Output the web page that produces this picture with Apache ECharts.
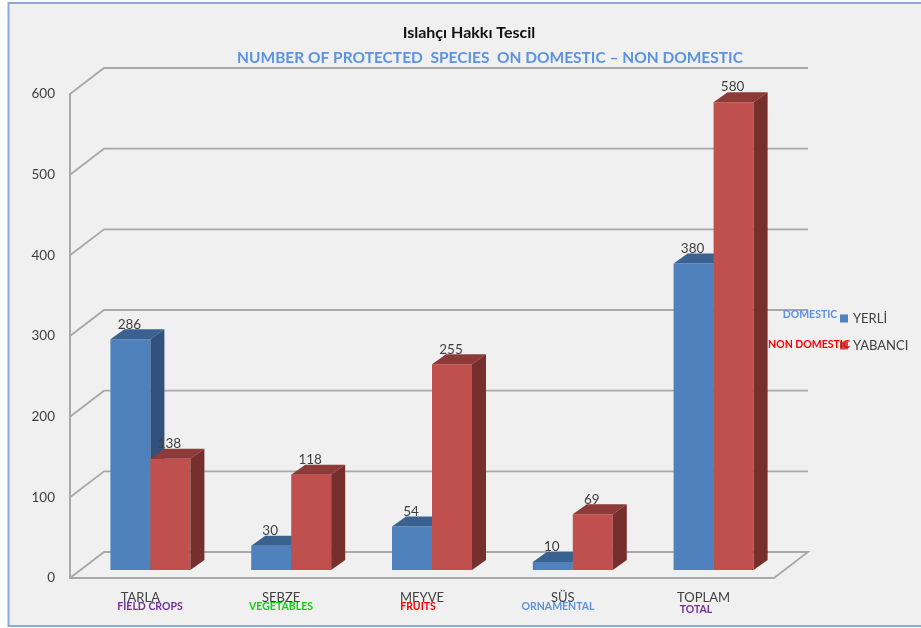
<!DOCTYPE html>
<html>
<head>
<meta charset="utf-8">
<style>html,body{margin:0;padding:0;background:#fff}#c{width:921px;height:628px;filter:blur(0.4px)}</style>
<script src="https://cdn.jsdelivr.net/npm/echarts@6/dist/echarts.min.js"></script>
</head>
<body>
<div id="c"></div>
<script>
const categories = ['TARLA', 'SEBZE', 'MEYVE', 'SÜS', 'TOPLAM'];
const yerli = [286, 30, 54, 10, 380];
const yabanci = [138, 118, 255, 69, 580];
const ticks = [0, 100, 200, 300, 400, 500, 600];
const seriesNames = ['YERLİ', 'YABANCI'];
const FONT = 'Lato';
const INK = '#404040';
const GRID = '#a8a8a8';

function wallItem(params, api) {
  const cs = params.coordSys;
  const v = api.value(0);
  const y = api.coord([0, v])[1];
  const l = cs.x, r = cs.x + cs.width, dx = 34, dy = 26;
  const pts = [[l, y], [l + dx, y - dy], [r + dx, y - dy]];
  if (v === 0) pts.push([r, y]);
  return { type: 'polyline', shape: { points: pts }, style: { fill: null, stroke: GRID, lineWidth: 1.8 } };
}

function barItem(side, front, top, right) {
  return function (params, api) {
    const p = api.coord([api.value(0), api.value(1)]);
    const base = api.coord([api.value(0), 0])[1] - 8;
    const w = 40, dx = 14, dy = 10;
    const x = p[0] + (side === 0 ? -30 : 10);
    const y = p[1] - 8;
    return {
      type: 'group',
      children: [
        { type: 'rect', shape: { x: x, y: y, width: w, height: base - y }, style: { fill: front } },
        { type: 'polygon', shape: { points: [[x, y], [x + w, y], [x + w + dx, y - dy], [x + dx, y - dy]] }, style: { fill: top } },
        { type: 'polygon', shape: { points: [[x + w, y], [x + w + dx, y - dy], [x + w + dx, base - dy], [x + w, base]] }, style: { fill: right } },
        { type: 'text', style: { x: x + w / 2 - 1, y: y - 15, text: String(api.value(1)), fill: INK, font: '13.5px ' + FONT, align: 'center', verticalAlign: 'middle' } }
      ]
    };
  };
}

function note(text, cx, cy, color, size) {
  return { type: 'text', z: 50, style: { x: cx, y: cy, text: text, fill: color, font: 'bold ' + (size || 10.5) + 'px ' + FONT, align: 'center', verticalAlign: 'middle' } };
}

const chart = echarts.init(document.getElementById('c'), null, { renderer: 'canvas' });
chart.setOption({
  animation: false,
  backgroundColor: '#ffffff',
  title: [
    { text: 'Islahçı Hakkı Tescil', left: 469, top: 25, padding: 0, textAlign: 'center', textStyle: { fontFamily: FONT, fontSize: 16, fontWeight: 'bold', color: '#111111' } },
    { text: 'NUMBER OF PROTECTED  SPECIES  ON DOMESTIC – NON DOMESTIC', left: 490, top: 50, padding: 0, textAlign: 'center', textStyle: { fontFamily: FONT, fontSize: 15.5, fontWeight: 'bold', color: '#5b93e2' } }
  ],
  legend: {
    orient: 'vertical', left: 840, top: 312, padding: 0, itemWidth: 8, itemHeight: 8, itemGap: 14,
    icon: 'rect', data: seriesNames,
    textStyle: { fontFamily: FONT, fontSize: 13, color: INK }
  },
  grid: { left: 70, top: 94, width: 704, height: 484 },
  xAxis: {
    type: 'category', data: categories,
    axisLine: { lineStyle: { color: GRID, width: 2 } }, axisTick: { show: false },
    axisLabel: { margin: 13, fontFamily: FONT, fontSize: 13, color: INK }
  },
  yAxis: {
    type: 'value', min: 0, max: 600, interval: 100,
    axisLine: { show: true, lineStyle: { color: GRID, width: 2 } }, axisTick: { show: false },
    splitLine: { show: false },
    axisLabel: { margin: 15, fontFamily: FONT, fontSize: 13.5, color: INK }
  },
  graphic: [
    { type: 'rect', z: -10, shape: { x: 8.5, y: 3, width: 930, height: 623 }, style: { fill: '#f0f0f0', stroke: '#8aaad8', lineWidth: 2 } },
    note('DOMESTIC', 810, 315, '#5b93e2'),
    note('NON DOMESTIC', 809, 345, '#ff0000'),
    note('FIELD CROPS', 150, 607, '#7030a0'),
    note('VEGETABLES', 281, 607, '#10d010'),
    note('FRUITS', 418, 607, '#ff0000'),
    note('ORNAMENTAL', 558, 607, '#5b93e2'),
    note('TOTAL', 696, 610, '#7030a0')
  ],
  series: [
    { type: 'custom', name: 'wall', silent: true, z: 1, data: ticks.map(t => [t]), encode: { y: 0 }, renderItem: wallItem },
    { type: 'custom', name: seriesNames[0], z: 2, itemStyle: { color: '#4f81bd' }, data: yerli.map((v, i) => [i, v]), encode: { x: 0, y: 1 }, renderItem: barItem(0, '#4f81bd', '#3a6291', '#30527c') },
    { type: 'custom', name: seriesNames[1], z: 3, itemStyle: { color: '#c0504d' }, data: yabanci.map((v, i) => [i, v]), encode: { x: 0, y: 1 }, renderItem: barItem(1, '#c0504d', '#8e3a38', '#772f2d') }
  ]
});
</script>
</body>
</html>
